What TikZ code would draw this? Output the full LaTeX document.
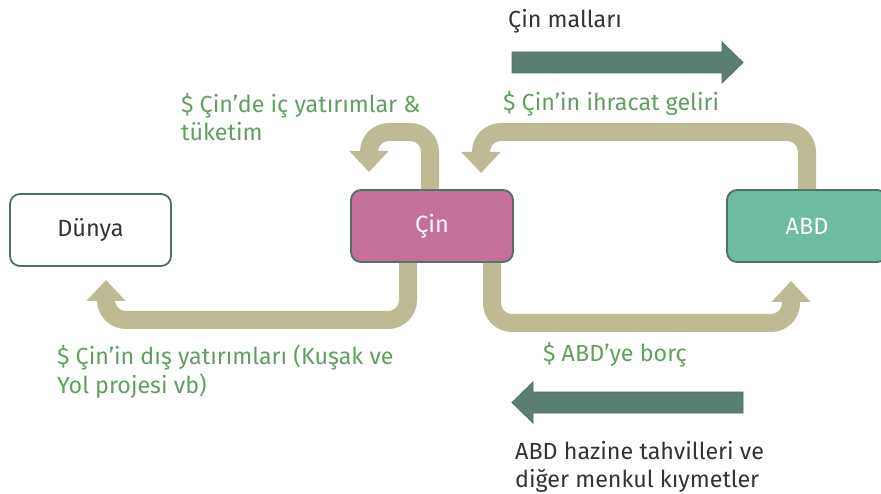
\documentclass[tikz,border=0pt]{standalone}
\usepackage{fontspec}
\setmainfont{Fira Sans}
\usetikzlibrary{arrows.meta}
\definecolor{tan}{HTML}{BEBA94}
\definecolor{darkarr}{HTML}{5C7F73}
\definecolor{darkarrb}{HTML}{4C6E63}
\definecolor{lbl}{HTML}{5FA05F}
\definecolor{pinkbox}{HTML}{C4709B}
\definecolor{tealbox}{HTML}{6DBBA0}
\definecolor{boxline}{HTML}{506F69}
\definecolor{txt}{HTML}{333333}
\tikzset{
  box/.style={draw=boxline, line width=1.8pt, rounded corners=10pt, minimum width=160pt, minimum height=72pt, inner sep=0pt, font=\fontsize{23.5}{26}\selectfont},
  band/.style={draw=tan, line width=18pt, rounded corners=20pt, line cap=butt, -{Triangle[width=38pt,length=21pt]}},
  flowlbl/.style={text=lbl, font=\fontsize{23.3}{28.5}\selectfont, inner sep=0pt, align=left, anchor=base west},
  plainlbl/.style={text=txt, font=\fontsize{23.3}{27.5}\selectfont, inner sep=0pt, align=left, anchor=base west},
  bigarrow/.style={fill=darkarr, draw=darkarrb, line width=0.8pt, line join=miter}
}
\begin{document}
\begin{tikzpicture}[x=1pt,y=-1pt]
\useasboundingbox (0,0) rectangle (881,494);
\clip (0,0) rectangle (881,494);
% boxes
\node[box, fill=white, text=txt, minimum width=161pt] (dunya) at (90.5,230) {Dünya};
\node[box, fill=pinkbox, text=white, minimum width=162pt] (cin) at (432,226) {Çin};
\node[box, fill=tealbox, text=white] (abd) at (807,226) {ABD};
% tan connectors
\coordinate (t1) at (369,172);
\coordinate (t2) at (481,173);
\coordinate (t3) at (106,280);
\coordinate (t4) at (791,281);
\draw[band] ([xshift=-2pt]cin.north) -- ([xshift=-2pt]cin.north |- 0,132) -- (t1 |- 0,132) -- (t1);
\draw[band] (abd.north) -- (abd.north |- 0,132) -- (t2 |- 0,132) -- (t2);
\draw[band] ([xshift=-24pt]cin.south) -- ([xshift=-24pt]cin.south |- 0,320) -- (t3 |- 0,320) -- (t3);
\draw[band] ([xshift=60pt]cin.south) -- ([xshift=60pt]cin.south |- 0,323) -- (t4 |- 0,323) -- (t4);
% dark arrows
\fill[bigarrow] (512,52) -- (722,52) -- (722,42) -- (743,62.5) -- (722,83) -- (722,73) -- (512,73) -- cycle;
\fill[bigarrow] (743,392) -- (533,392) -- (533,382) -- (512,402.5) -- (533,423) -- (533,413) -- (743,413) -- cycle;
% labels
\node[plainlbl] (lmal) at (508,28) {Çin malları};
\node[flowlbl] (lihr) at (503,111) {\$ Çin’in ihracat geliri};
\node[flowlbl] (lic) at (181,141) {\$ Çin’de iç yatırımlar \&\\tüketim};
\node[flowlbl] (ldis) at (57,393) {\$ Çin’in dış yatırımları (Kuşak ve\\Yol projesi vb)};
\node[flowlbl] (lborc) at (543,362) {\$ ABD’ye borç};
\node[plainlbl] (lhaz) at (515,487) {ABD hazine tahvilleri ve\\diğer menkul kıymetler};
\end{tikzpicture}
\end{document}
